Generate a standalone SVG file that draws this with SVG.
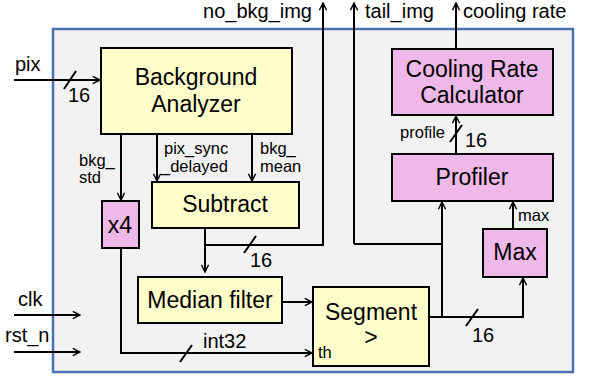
<svg xmlns="http://www.w3.org/2000/svg" width="592" height="378" viewBox="0 0 592 378">
<defs>
<marker id="ah" viewBox="0 0 10 10" refX="9" refY="5" markerWidth="9" markerHeight="9" markerUnits="userSpaceOnUse" orient="auto">
<path d="M1,1 L9,5 L1,9" fill="none" stroke="#000" stroke-width="1.6"/>
</marker>
<style>
.w{fill:none;stroke:#000;stroke-width:2}
.a{marker-end:url(#ah)}
.y{fill:#ffffcc;stroke:#000;stroke-width:2}
.p{fill:#eeb8e8;stroke:#000;stroke-width:2}
text{font-family:"Liberation Sans",Arial,sans-serif;fill:#000}
.b{font-size:23px;text-anchor:middle}
.s{font-size:16.5px}
.m{font-size:20px}
</style>
</defs>
<rect width="592" height="378" fill="#fff"/>
<rect x="53" y="29" width="520" height="343" fill="#f2f2f2" stroke="#4a72b0" stroke-width="2.5"/>

<g id="connectors">
<path class="w a" d="M14,80 H100"/><path class="w" d="M64,89 L76,71"/>
<path class="w a" d="M14,315 H80"/>
<path class="w a" d="M14,352 H80"/>
<path class="w a" d="M121,134 V200"/>
<path class="w a" d="M157,134 V181"/>
<path class="w a" d="M252,134 V181"/>
<path class="w a" d="M205,228 V272"/>
<path class="w a" d="M205,245 H323 V3"/><path class="w" d="M244,253 L256,236"/>
<path class="w a" d="M354,244 V3"/>
<path class="w" d="M354,244 H442"/>
<path class="w a" d="M121,248 V353 H312"/><path class="w" d="M180,362 L192,345"/>
<path class="w a" d="M282,302 H312"/>
<path class="w a" d="M429,317 H523 V278"/><path class="w" d="M466,326 L478,309"/>
<path class="w a" d="M442,317 V202"/>
<path class="w a" d="M513,229 V202"/>
<path class="w a" d="M456,153 V116"/><path class="w" d="M450,142 L462,125"/>
<path class="w a" d="M456,49 V3"/>
</g>

<g id="labels">
<text class="m" x="15" y="71">pix</text>
<text class="m" x="68" y="102">16</text>
<text class="m" x="18" y="306">clk</text>
<text class="m" x="5" y="342">rst_n</text>
<text class="s" x="79" y="166">bkg_</text>
<text class="s" x="79" y="183">std</text>
<text class="s" x="164" y="154">pix_sync</text>
<text class="s" x="161" y="172">_delayed</text>
<text class="s" x="260" y="154">bkg_</text>
<text class="s" x="260" y="172">mean</text>
<text class="m" x="250" y="267">16</text>
<text class="m" x="203" y="348">int32</text>
<text class="m" x="472" y="342">16</text>
<text class="s" x="518" y="221">max</text>
<text class="s" x="445" y="138" text-anchor="end">profile</text>
<text class="m" x="465" y="147">16</text>
<text class="m" x="312" y="18" text-anchor="end">no_bkg_img</text>
<text class="m" x="365" y="18">tail_img</text>
<text class="m" x="463" y="18">cooling rate</text>
</g>

<g id="background-analyzer"><rect class="y" x="101" y="48" width="191" height="86"/>
<text class="b" x="196" y="85">Background</text><text class="b" x="196" y="112">Analyzer</text></g>
<g id="subtract"><rect class="y" x="152" y="182" width="147" height="46"/>
<text class="b" x="225" y="212">Subtract</text></g>
<g id="x4"><rect class="p" x="102" y="201" width="37" height="47"/>
<text class="b" x="120" y="233">x4</text></g>
<g id="median-filter"><rect class="y" x="138" y="277" width="144" height="46"/>
<text class="b" x="210" y="308">Median filter</text></g>
<g id="segment"><rect class="y" x="313" y="287" width="116" height="79"/>
<text class="b" x="371" y="320">Segment</text><text class="b" x="371" y="345">&gt;</text>
<text class="s" x="318" y="358">th</text></g>
<g id="max"><rect class="p" x="483" y="229" width="64" height="48"/>
<text class="b" x="515" y="260">Max</text></g>
<g id="profiler"><rect class="p" x="392" y="154" width="161" height="47"/>
<text class="b" x="472" y="185">Profiler</text></g>
<g id="cooling-rate-calculator"><rect class="p" x="392" y="49" width="161" height="66"/>
<text class="b" x="472" y="77">Cooling Rate</text><text class="b" x="472" y="103">Calculator</text></g>
</svg>
